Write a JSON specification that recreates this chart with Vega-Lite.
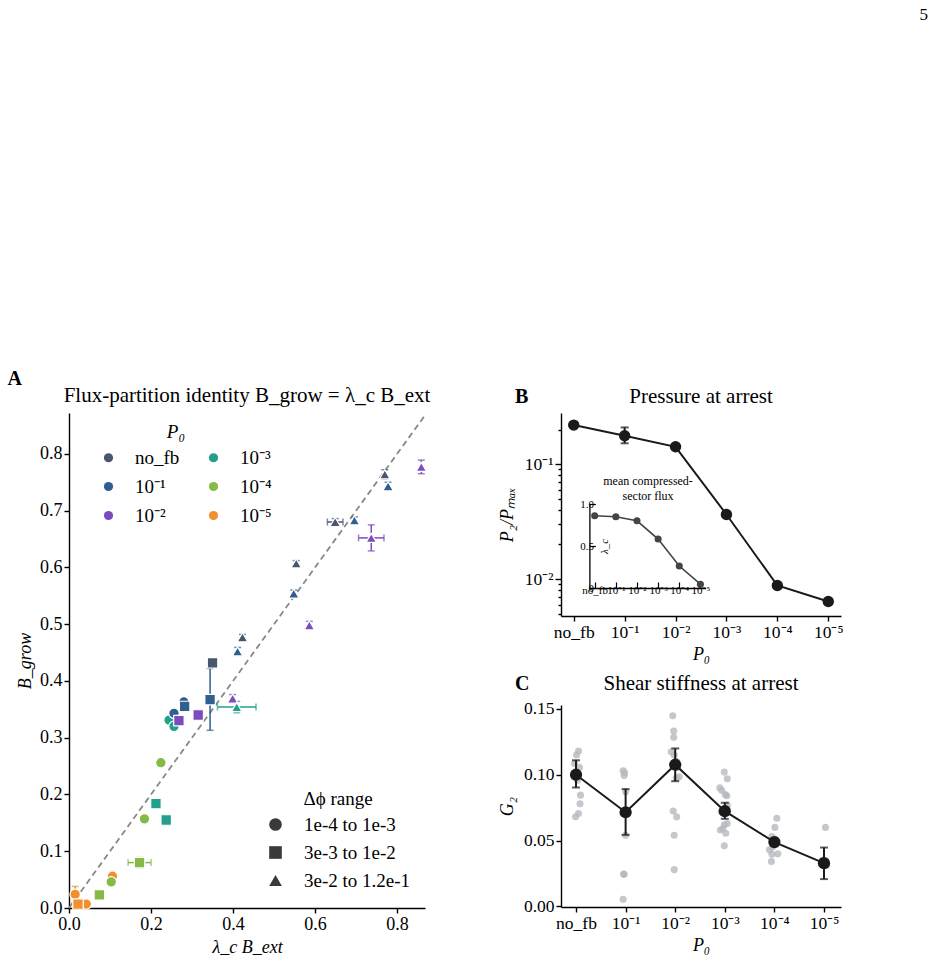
{
  "$schema": "https://vega.github.io/schema/vega-lite/v6.json",
  "background": "white",
  "padding": {"left": 7, "top": 5, "right": 5, "bottom": 5},
  "config": {
    "font": "Liberation Serif",
    "view": {"stroke": null},
    "axis": {"grid": false, "labelFlush": false, "domainColor": "#000", "domainWidth": 1.4, "tickColor": "#000", "tickWidth": 1.4, "tickSize": 5, "labelColor": "#000", "titleColor": "#000", "labelFontSize": 17.5, "titleFontSize": 18, "titleFontWeight": "normal", "labelPadding": 2, "titlePadding": 5},
    "title": {"fontSize": 21, "fontWeight": "normal", "color": "#000", "offset": 6},
    "legend": {"labelColor": "#000", "titleColor": "#000", "symbolBaseFillColor": "#3a3a3a"}
  },
  "datasets": {
    "A": [
      {"x": 0.244, "y": 0.331, "p0": "10⁻³", "dphi": "1e-4 to 1e-3"},
      {"x": 0.256, "y": 0.320, "p0": "10⁻³", "dphi": "1e-4 to 1e-3"},
      {"x": 0.280, "y": 0.363, "p0": "10⁻¹", "dphi": "1e-4 to 1e-3"},
      {"x": 0.256, "y": 0.343, "p0": "10⁻¹", "dphi": "1e-4 to 1e-3"},
      {"x": 0.224, "y": 0.256, "p0": "10⁻⁴", "dphi": "1e-4 to 1e-3"},
      {"x": 0.184, "y": 0.157, "p0": "10⁻⁴", "dphi": "1e-4 to 1e-3"},
      {"x": 0.106, "y": 0.056, "p0": "10⁻⁵", "dphi": "1e-4 to 1e-3"},
      {"x": 0.103, "y": 0.046, "p0": "10⁻⁴", "dphi": "1e-4 to 1e-3"},
      {"x": 0.015, "y": 0.024, "p0": "10⁻⁵", "dphi": "1e-4 to 1e-3", "ylo": 0.010, "yhi": 0.038},
      {"x": 0.042, "y": 0.007, "p0": "10⁻⁵", "dphi": "1e-4 to 1e-3"},
      {"x": 0.350, "y": 0.432, "p0": "no_fb", "dphi": "3e-3 to 1e-2"},
      {"x": 0.344, "y": 0.367, "p0": "10⁻¹", "dphi": "3e-3 to 1e-2", "ylo": 0.313, "yhi": 0.422},
      {"x": 0.282, "y": 0.355, "p0": "10⁻¹", "dphi": "3e-3 to 1e-2"},
      {"x": 0.315, "y": 0.340, "p0": "10⁻²", "dphi": "3e-3 to 1e-2"},
      {"x": 0.268, "y": 0.330, "p0": "10⁻²", "dphi": "3e-3 to 1e-2"},
      {"x": 0.212, "y": 0.184, "p0": "10⁻³", "dphi": "3e-3 to 1e-2"},
      {"x": 0.237, "y": 0.155, "p0": "10⁻³", "dphi": "3e-3 to 1e-2"},
      {"x": 0.172, "y": 0.080, "p0": "10⁻⁴", "dphi": "3e-3 to 1e-2", "xlo": 0.144, "xhi": 0.200, "ylo": 0.071, "yhi": 0.089},
      {"x": 0.074, "y": 0.023, "p0": "10⁻⁴", "dphi": "3e-3 to 1e-2"},
      {"x": 0.022, "y": 0.007, "p0": "10⁻⁵", "dphi": "3e-3 to 1e-2"},
      {"x": 0.770, "y": 0.764, "p0": "no_fb", "dphi": "3e-2 to 1.2e-1", "ylo": 0.756, "yhi": 0.772},
      {"x": 0.778, "y": 0.743, "p0": "10⁻¹", "dphi": "3e-2 to 1.2e-1", "ylo": 0.736, "yhi": 0.750},
      {"x": 0.859, "y": 0.777, "p0": "10⁻²", "dphi": "3e-2 to 1.2e-1", "ylo": 0.765, "yhi": 0.789},
      {"x": 0.649, "y": 0.680, "p0": "no_fb", "dphi": "3e-2 to 1.2e-1", "xlo": 0.630, "xhi": 0.668, "ylo": 0.674, "yhi": 0.686},
      {"x": 0.696, "y": 0.683, "p0": "10⁻¹", "dphi": "3e-2 to 1.2e-1", "ylo": 0.677, "yhi": 0.689},
      {"x": 0.737, "y": 0.652, "p0": "10⁻²", "dphi": "3e-2 to 1.2e-1", "xlo": 0.706, "xhi": 0.768, "ylo": 0.629, "yhi": 0.675},
      {"x": 0.554, "y": 0.607, "p0": "no_fb", "dphi": "3e-2 to 1.2e-1", "ylo": 0.602, "yhi": 0.612},
      {"x": 0.548, "y": 0.554, "p0": "10⁻¹", "dphi": "3e-2 to 1.2e-1", "ylo": 0.548, "yhi": 0.560},
      {"x": 0.586, "y": 0.498, "p0": "10⁻²", "dphi": "3e-2 to 1.2e-1", "ylo": 0.491, "yhi": 0.505},
      {"x": 0.423, "y": 0.477, "p0": "no_fb", "dphi": "3e-2 to 1.2e-1", "ylo": 0.472, "yhi": 0.482},
      {"x": 0.411, "y": 0.452, "p0": "10⁻¹", "dphi": "3e-2 to 1.2e-1", "ylo": 0.445, "yhi": 0.459},
      {"x": 0.399, "y": 0.369, "p0": "10⁻²", "dphi": "3e-2 to 1.2e-1", "ylo": 0.362, "yhi": 0.376},
      {"x": 0.409, "y": 0.354, "p0": "10⁻³", "dphi": "3e-2 to 1.2e-1", "xlo": 0.362, "xhi": 0.456, "ylo": 0.344, "yhi": 0.364}
    ],
    "identity": [{"x": 0, "y": 0}, {"x": 0.868, "y": 0.868}],
    "B": [
      {"i": 0, "v": 0.219},
      {"i": 1, "v": 0.177, "lo": 0.152, "hi": 0.209},
      {"i": 2, "v": 0.1417},
      {"i": 3, "v": 0.0365},
      {"i": 4, "v": 0.00879},
      {"i": 5, "v": 0.00637}
    ],
    "inset": [
      {"i": 0, "v": 0.861},
      {"i": 1, "v": 0.849},
      {"i": 2, "v": 0.80},
      {"i": 3, "v": 0.583},
      {"i": 4, "v": 0.262},
      {"i": 5, "v": 0.045}
    ],
    "Cmean": [
      {"i": 0, "g": 0.100, "lo": 0.0903, "hi": 0.111},
      {"i": 1, "g": 0.0715, "lo": 0.0543, "hi": 0.0891},
      {"i": 2, "g": 0.1076, "lo": 0.0951, "hi": 0.120},
      {"i": 3, "g": 0.0723, "lo": 0.0665, "hi": 0.0787},
      {"i": 4, "g": 0.0488, "lo": 0.0468, "hi": 0.0508},
      {"i": 5, "g": 0.0328, "lo": 0.0207, "hi": 0.0447}
    ],
    "Cpts": [
      {"i": 0.05, "g": 0.118}, {"i": 0.01, "g": 0.115}, {"i": -0.03, "g": 0.1086}, {"i": 0.07, "g": 0.1055}, {"i": -0.03, "g": 0.0984},
      {"i": 0.03, "g": 0.0959}, {"i": 0.09, "g": 0.0845}, {"i": 0.08, "g": 0.078}, {"i": 0.05, "g": 0.0705}, {"i": -0.01, "g": 0.068},
      {"i": 0.95, "g": 0.103}, {"i": 0.98, "g": 0.1015}, {"i": 0.97, "g": 0.0995}, {"i": 1.0, "g": 0.087}, {"i": 1.0, "g": 0.054},
      {"i": 0.96, "g": 0.0245}, {"i": 0.97, "g": 0.0243}, {"i": 0.95, "g": 0.0053},
      {"i": 1.95, "g": 0.1448}, {"i": 1.97, "g": 0.1332}, {"i": 1.97, "g": 0.1284}, {"i": 1.92, "g": 0.1174}, {"i": 1.98, "g": 0.115},
      {"i": 2.05, "g": 0.1055}, {"i": 2.08, "g": 0.0984}, {"i": 2.02, "g": 0.0975}, {"i": 2.03, "g": 0.110}, {"i": 1.96, "g": 0.0725},
      {"i": 2.03, "g": 0.068}, {"i": 1.98, "g": 0.054}, {"i": 1.98, "g": 0.0279},
      {"i": 2.99, "g": 0.102}, {"i": 3.05, "g": 0.097}, {"i": 2.9, "g": 0.090}, {"i": 2.94, "g": 0.088}, {"i": 3.01, "g": 0.085},
      {"i": 3.04, "g": 0.084}, {"i": 3.05, "g": 0.077}, {"i": 2.93, "g": 0.072}, {"i": 3.05, "g": 0.063}, {"i": 2.99, "g": 0.062},
      {"i": 2.96, "g": 0.059}, {"i": 2.91, "g": 0.058}, {"i": 3.02, "g": 0.0555}, {"i": 2.99, "g": 0.046},
      {"i": 4.05, "g": 0.067}, {"i": 4.01, "g": 0.060}, {"i": 3.95, "g": 0.053}, {"i": 4.01, "g": 0.051}, {"i": 3.96, "g": 0.045},
      {"i": 3.9, "g": 0.043}, {"i": 4.07, "g": 0.040}, {"i": 3.95, "g": 0.0395}, {"i": 3.94, "g": 0.034},
      {"i": 5.03, "g": 0.060}, {"i": 5.05, "g": 0.031}, {"i": 4.97, "g": 0.035}
    ]
  },
  "title": {"text": "5", "anchor": "end", "fontSize": 17, "fontWeight": "normal", "offset": 345, "dx": 85},
  "vconcat": [
    {
      "title": {"text": "A", "anchor": "start", "fontSize": 20, "fontWeight": "bold", "offset": -4, "dx": -9},
      "hconcat": [
        {
          "width": 356,
          "height": 495,
          "title": {"text": "Flux-partition identity B_grow = λ_c B_ext"},
          "layer": [
            {
              "data": {"name": "identity"},
              "mark": {"type": "line", "color": "#888888", "strokeWidth": 1.8, "strokeDash": [6, 4]},
              "encoding": {
                "x": {"field": "x", "type": "quantitative", "title": "λ_c B_ext", "scale": {"domain": [0, 0.868], "nice": false, "zero": false},
                      "axis": {"values": [0, 0.2, 0.4, 0.6, 0.8], "format": ".1f", "titleFontStyle": "italic", "labelFontSize": 18}},
                "y": {"field": "y", "type": "quantitative", "title": "B_grow", "scale": {"domain": [0, 0.872], "nice": false, "zero": false},
                      "axis": {"values": [0, 0.1, 0.2, 0.3, 0.4, 0.5, 0.6, 0.7, 0.8], "format": ".1f", "titleFontStyle": "italic", "labelFontSize": 18}}
              }
            },
            {
              "data": {"name": "A"},
              "transform": [{"filter": "isValid(datum.ylo)"}],
              "mark": {"type": "errorbar", "ticks": {"size": 7}, "thickness": 1.5},
              "encoding": {
                "x": {"field": "x", "type": "quantitative", "title": "λ_c B_ext"},
                "y": {"field": "ylo", "type": "quantitative", "title": "B_grow"},
                "y2": {"field": "yhi"},
                "color": {"field": "p0", "type": "nominal", "legend": null,
                          "scale": {"domain": ["no_fb", "10⁻¹", "10⁻²", "10⁻³", "10⁻⁴", "10⁻⁵"], "range": ["#4a5570", "#2f5f8f", "#7d4cbc", "#23a08c", "#84bb45", "#f28f2f"]}}
              }
            },
            {
              "data": {"name": "A"},
              "transform": [{"filter": "isValid(datum.xlo)"}],
              "mark": {"type": "errorbar", "ticks": {"size": 7}, "thickness": 1.5},
              "encoding": {
                "y": {"field": "y", "type": "quantitative", "title": "B_grow"},
                "x": {"field": "xlo", "type": "quantitative", "title": "λ_c B_ext"},
                "x2": {"field": "xhi"},
                "color": {"field": "p0", "type": "nominal", "legend": null,
                          "scale": {"domain": ["no_fb", "10⁻¹", "10⁻²", "10⁻³", "10⁻⁴", "10⁻⁵"], "range": ["#4a5570", "#2f5f8f", "#7d4cbc", "#23a08c", "#84bb45", "#f28f2f"]}}
              }
            },
            {
              "data": {"name": "A"},
              "mark": {"type": "point", "filled": true, "opacity": 1, "stroke": "white", "strokeWidth": 1.2, "size": 110},
              "encoding": {
                "x": {"field": "x", "type": "quantitative", "title": "λ_c B_ext"},
                "y": {"field": "y", "type": "quantitative", "title": "B_grow"},
                "color": {
                  "field": "p0", "type": "nominal",
                  "scale": {"domain": ["no_fb", "10⁻¹", "10⁻²", "10⁻³", "10⁻⁴", "10⁻⁵"], "range": ["#4a5570", "#2f5f8f", "#7d4cbc", "#23a08c", "#84bb45", "#f28f2f"]},
                  "legend": {"orient": "none", "legendX": 30, "legendY": 10, "columns": 2, "direction": "vertical", "title": "P₀", "titleFontStyle": "italic", "titleFontSize": 19, "titleFontWeight": "normal", "titleAnchor": "middle", "titleAlign": "right", "titlePadding": 6, "labelFontSize": 19, "symbolType": "circle", "symbolSize": 85, "symbolStrokeWidth": 0, "symbolOpacity": 1, "labelOffset": 17, "columnPadding": 24, "rowPadding": 9, "padding": 0}
                },
                "shape": {
                  "field": "dphi", "type": "nominal",
                  "scale": {"domain": ["1e-4 to 1e-3", "3e-3 to 1e-2", "3e-2 to 1.2e-1"], "range": ["circle", "square", "triangle-up"]},
                  "legend": {"orient": "none", "legendX": 197, "legendY": 377, "title": "Δϕ range", "titleFontSize": 19, "titleFontWeight": "normal", "titleAnchor": "middle", "titlePadding": 6, "labelFontSize": 19, "symbolSize": 160, "symbolFillColor": "#3a3a3a", "symbolStrokeWidth": 0, "labelOffset": 19, "rowPadding": 8, "padding": 0}
                }
              }
            }
          ],
          "resolve": {"scale": {"color": "independent"}}
        },
        {
          "spacing": 8,
          "vconcat": [
            {
              "title": {"text": "B", "anchor": "start", "fontSize": 20, "fontWeight": "bold", "offset": -21, "dx": 17},
              "vconcat": [
                {
                  "width": 280,
                  "height": 203,
                  "title": {"text": "Pressure at arrest"},
                  "layer": [
                    {
                      "data": {"name": "B"},
                      "encoding": {
                        "x": {"field": "i", "type": "quantitative", "title": "P₀", "scale": {"domain": [-0.25, 5.25], "nice": false, "zero": false},
                              "axis": {"values": [0, 1, 2, 3, 4, 5], "labelExpr": "['no_fb','10⁻¹','10⁻²','10⁻³','10⁻⁴','10⁻⁵'][datum.value]", "titleFontStyle": "italic", "labelOverlap": false}},
                        "y": {"field": "v", "type": "quantitative", "title": "P₂/Pₘₐₓ", "scale": {"type": "log", "domain": [0.00477, 0.279], "nice": false, "zero": false},
                              "axis": {"values": [0.005, 0.006, 0.007, 0.008, 0.009, 0.01, 0.02, 0.03, 0.04, 0.05, 0.06, 0.07, 0.08, 0.09, 0.1, 0.2],
                                       "labelExpr": "datum.value == 0.1 ? '10⁻¹' : (datum.value == 0.01 ? '10⁻²' : '')",
                                       "tickSize": {"condition": {"test": "datum.value == 0.1 || datum.value == 0.01", "value": 6}, "value": 3},
                                       "labelOverlap": false, "titleFontStyle": "italic", "minExtent": 40, "maxExtent": 40}}
                      },
                      "layer": [
                        {"mark": {"type": "line", "color": "#1a1a1a", "strokeWidth": 2}},
                        {
                          "transform": [{"filter": "isValid(datum.lo)"}],
                          "mark": {"type": "errorbar", "color": "#1a1a1a", "thickness": 2, "ticks": {"size": 8}},
                          "encoding": {"y": {"field": "lo", "type": "quantitative", "title": "P₂/Pₘₐₓ"}, "y2": {"field": "hi"}}
                        },
                        {"mark": {"type": "circle", "color": "#1a1a1a", "opacity": 1, "size": 130}}
                      ]
                    },
                    {
                      "data": {"name": "inset"},
                      "mark": {"type": "line", "color": "#444444", "strokeWidth": 1.6},
                      "encoding": {
                        "x": {"field": "i", "type": "quantitative", "scale": {"domain": [-0.25, 5.25], "range": [28.4, 144.7], "nice": false, "zero": false},
                              "axis": {"orient": "bottom", "offset": -28, "values": [0, 1, 2, 3, 4, 5], "labelExpr": "['no_fb','10⁻¹','10⁻²','10⁻³','10⁻⁴','10⁻⁵'][datum.value]", "labelFontSize": 11, "tickSize": -6, "labelPadding": 2, "labelOverlap": false, "title": null, "domainWidth": 1.3, "tickWidth": 1.2}},
                        "y": {"field": "v", "type": "quantitative", "scale": {"domain": [0, 1], "range": [175, 91], "nice": false, "zero": false},
                              "axis": {"orient": "left", "offset": -28.4, "values": [0, 0.5, 1], "labelExpr": "datum.value == 0 ? '0' : format(datum.value, '.1f')", "labelFontSize": 11, "tickSize": -6, "labelPadding": 2, "title": "λ_c", "titleFontSize": 11, "titleFontStyle": "italic", "titleX": 20, "titleY": 133, "domainWidth": 1.3, "tickWidth": 1.2}}
                      }
                    },
                    {
                      "data": {"name": "inset"},
                      "mark": {"type": "circle", "color": "#444444", "opacity": 1, "size": 50},
                      "encoding": {
                        "x": {"field": "i", "type": "quantitative", "scale": {"domain": [-0.25, 5.25], "range": [28.4, 144.7], "nice": false, "zero": false},
                              "axis": {"orient": "top", "offset": -91, "labels": false, "ticks": false, "domain": false, "title": ["mean compressed-", "sector flux"], "titleFontSize": 12, "titleLineHeight": 15, "titlePadding": 2}},
                        "y": {"field": "v", "type": "quantitative", "scale": {"domain": [0, 1], "range": [175, 91], "nice": false, "zero": false}, "axis": null}
                      }
                    }
                  ],
                  "resolve": {"scale": {"x": "independent", "y": "independent"}, "axis": {"x": "independent", "y": "independent"}}
                }
              ]
            },
            {
              "title": {"text": "C", "anchor": "start", "fontSize": 20, "fontWeight": "bold", "offset": -21, "dx": 17},
              "vconcat": [
                {
                  "width": 280,
                  "height": 202,
                  "title": {"text": "Shear stiffness at arrest"},
                  "encoding": {
                    "x": {"type": "quantitative", "title": "P₀", "scale": {"domain": [-0.303, 5.343], "nice": false, "zero": false},
                          "axis": {"values": [0, 1, 2, 3, 4, 5], "labelExpr": "['no_fb','10⁻¹','10⁻²','10⁻³','10⁻⁴','10⁻⁵'][datum.value]", "titleFontStyle": "italic", "labelOverlap": false}},
                    "y": {"type": "quantitative", "title": "G₂", "scale": {"domain": [-0.0005, 0.153], "nice": false, "zero": false},
                          "axis": {"values": [0, 0.05, 0.1, 0.15], "format": ".2f", "titleFontStyle": "italic", "minExtent": 40, "maxExtent": 40}}
                  },
                  "layer": [
                    {
                      "data": {"name": "Cpts"},
                      "mark": {"type": "circle", "color": "#b5b9bf", "opacity": 0.8, "size": 50},
                      "encoding": {"x": {"field": "i", "type": "quantitative"}, "y": {"field": "g", "type": "quantitative"}}
                    },
                    {
                      "data": {"name": "Cmean"},
                      "mark": {"type": "line", "color": "#1a1a1a", "strokeWidth": 2},
                      "encoding": {"x": {"field": "i", "type": "quantitative"}, "y": {"field": "g", "type": "quantitative"}}
                    },
                    {
                      "data": {"name": "Cmean"},
                      "mark": {"type": "errorbar", "color": "#1a1a1a", "thickness": 2, "ticks": {"size": 8}},
                      "encoding": {"x": {"field": "i", "type": "quantitative"}, "y": {"field": "lo", "type": "quantitative"}, "y2": {"field": "hi"}}
                    },
                    {
                      "data": {"name": "Cmean"},
                      "mark": {"type": "circle", "color": "#1a1a1a", "opacity": 1, "size": 150},
                      "encoding": {"x": {"field": "i", "type": "quantitative"}, "y": {"field": "g", "type": "quantitative"}}
                    }
                  ]
                }
              ]
            }
          ]
        }
      ],
      "spacing": 67
    }
  ]
}
